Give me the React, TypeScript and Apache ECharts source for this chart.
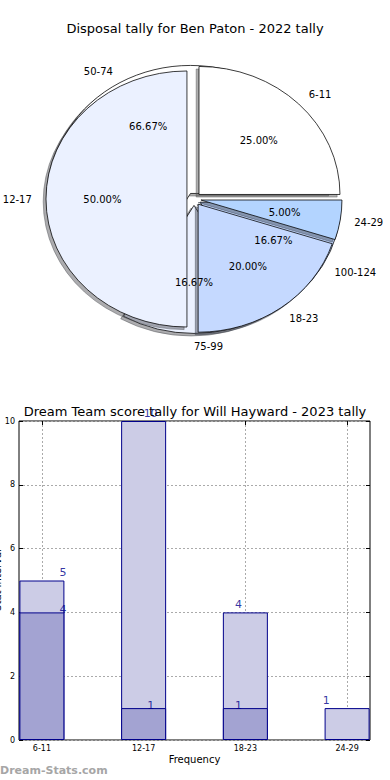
import React, { useEffect, useRef } from 'react';
import * as echarts from 'echarts';

// ---------- data ----------
const pieTitle = 'Disposal tally for Ben Paton - 2022 tally';
const pie1Labels = ['6-11', '12-17', '18-23', '24-29'];
const pie1Values = [5, 10, 4, 1];
const pie2Labels = ['50-74', '75-99', '100-124'];
const pie2Values = [4, 1, 1];
const pieColors = ['#FFFFFF', '#EBF1FF', '#C5D9FF', '#B3D4FF'];

const barTitle = 'Dream Team score tally for Will Hayward - 2023 tally';
const barCategories = ['6-11', '12-17', '18-23', '24-29'];
const lightValues = [5, 10, 4, 1];
const darkValues = [4, 1, 1];
const xTickPositions = [0, 1, 2, 3];

// ---------- layout ----------
const FONT = 'DejaVu Sans';
const CX = 194;
const CY = 199;
const RX = 141;
const RY = 128;
const EXPLODE = 0.05;
const SDX = -0.02 * RX;
const SDY = 0.02 * RY;

type Wedge = { label: string; value: number; pct: number; start: number; end: number; mid: number; color: string };

function buildWedges(values: number[], labels: string[]): Wedge[] {
  const total = values.reduce((a, b) => a + b, 0);
  let acc = 0;
  return values.map((v, i) => {
    const start = (acc / total) * 360;
    acc += v;
    const end = (acc / total) * 360;
    return { label: labels[i], value: v, pct: (v / total) * 100, start, end, mid: (start + end) / 2, color: pieColors[i % pieColors.length] };
  });
}

function shadowColor(hex: string): string {
  const n = parseInt(hex.slice(1), 16);
  const r = Math.round(((n >> 16) & 255) * 0.3);
  const g = Math.round(((n >> 8) & 255) * 0.3);
  const b = Math.round((n & 255) * 0.3);
  return `rgba(${r},${g},${b},0.45)`;
}

const wedges1 = buildWedges(pie1Values, pie1Labels);
const wedges2 = buildWedges(pie2Values, pie2Labels);

function wedgeSeries(ws: Wedge[], shadow: boolean, z: number) {
  return {
    type: 'custom',
    coordinateSystem: 'none',
    silent: true,
    z,
    data: ws.map((w) => [w.start, w.end, w.mid]),
    renderItem: (params: any, api: any) => {
      const w = ws[params.dataIndex];
      const start = api.value(0);
      const end = api.value(1);
      const mid = (api.value(2) * Math.PI) / 180;
      let x = CX + EXPLODE * RX * Math.cos(mid);
      let y = CY - EXPLODE * RY * Math.sin(mid);
      if (shadow) {
        x += SDX;
        y += SDY;
      }
      const sc = shadowColor(w.color);
      return {
        type: 'group',
        x,
        y,
        scaleX: 1,
        scaleY: RY / RX,
        children: [
          {
            type: 'sector',
            shape: {
              cx: 0,
              cy: 0,
              r0: 0,
              r: RX,
              startAngle: (-start * Math.PI) / 180,
              endAngle: (-end * Math.PI) / 180,
              clockwise: false,
            },
            style: shadow
              ? { fill: sc, stroke: sc, lineWidth: 1, strokeNoScale: true }
              : { fill: w.color, stroke: '#000', lineWidth: 0.8, strokeNoScale: true },
          },
        ],
      };
    },
  };
}

type PieLabel = { text: string; x: number; y: number; align: string };

function pieLabels(ws: Wedge[]): PieLabel[] {
  const out: PieLabel[] = [];
  ws.forEach((w) => {
    const m = (w.mid * Math.PI) / 180;
    const c = Math.cos(m);
    const s = Math.sin(m);
    out.push({ text: w.pct.toFixed(2) + '%', x: CX + 0.65 * RX * c, y: CY - 0.65 * RY * s, align: 'center' });
    out.push({ text: w.label, x: CX + 1.15 * RX * c, y: CY - 1.15 * RY * s, align: c > -1e-6 ? 'left' : 'right' });
  });
  return out;
}

const allPieLabels = [...pieLabels(wedges1), ...pieLabels(wedges2)];

const option: any = {
  animation: false,
  backgroundColor: '#ffffff',
  title: [
    {
      text: pieTitle,
      left: 'center',
      top: 22,
      padding: 0,
      textStyle: { fontFamily: FONT, fontSize: 13, fontWeight: 'normal', color: '#000' },
    },
    {
      text: barTitle,
      left: 'center',
      top: 405,
      padding: 0,
      textStyle: { fontFamily: FONT, fontSize: 13, fontWeight: 'normal', color: '#000' },
    },
  ],
  grid: {
    left: 19,
    right: 20,
    top: 421,
    bottom: 40,
    show: true,
    borderColor: '#000',
    borderWidth: 1,
    backgroundColor: 'transparent',
    containLabel: false,
    outerBoundsMode: 'none',
  },
  xAxis: [
    {
      type: 'value',
      min: -0.225,
      max: 3.225,
      position: 'bottom',
      axisLine: { show: false, onZero: false },
      axisTick: { show: true, inside: true, length: 4, customValues: xTickPositions, lineStyle: { color: '#000' } },
      axisLabel: {
        customValues: xTickPositions,
        formatter: (v: number) => barCategories[Math.round(v)] ?? '',
        fontSize: 8,
        fontFamily: FONT,
        color: '#000',
        margin: 4,
      },
      splitLine: { show: true, lineStyle: { type: [2, 2], color: '#aaaaaa', width: 1 } },
      name: 'Frequency',
      nameLocation: 'middle',
      nameGap: 14,
      nameTextStyle: { fontFamily: FONT, fontSize: 10, color: '#000', verticalAlign: 'top' },
    },
    {
      type: 'value',
      min: -0.225,
      max: 3.225,
      position: 'top',
      axisLine: { show: false, onZero: false },
      axisTick: { show: true, inside: true, length: 4, customValues: xTickPositions, lineStyle: { color: '#000' } },
      axisLabel: { show: false },
      splitLine: { show: false },
    },
    {
      type: 'category',
      data: barCategories,
      boundaryGap: true,
      show: false,
    },
  ],
  yAxis: [
    {
      type: 'value',
      min: 0,
      max: 10,
      interval: 2,
      position: 'left',
      axisLine: { show: false, onZero: false },
      axisTick: { show: true, inside: true, length: 4, lineStyle: { color: '#000' } },
      axisLabel: { fontSize: 8, fontFamily: FONT, color: '#000', margin: 4 },
      splitLine: { show: true, lineStyle: { type: [2, 2], color: '#aaaaaa', width: 1 } },
    },
    {
      type: 'value',
      min: 0,
      max: 10,
      interval: 2,
      position: 'right',
      axisLine: { show: false, onZero: false },
      axisTick: { show: true, inside: true, length: 4, lineStyle: { color: '#000' } },
      axisLabel: { show: false },
      splitLine: { show: false },
    },
  ],
  graphic: [
    {
      type: 'text',
      x: -3,
      y: 580,
      rotation: Math.PI / 2,
      style: { text: 'Stat Interval', fontFamily: FONT, fontSize: 10, fill: '#000', align: 'center', verticalAlign: 'middle' },
    },
    {
      type: 'text',
      x: 0,
      y: 770,
      style: { text: 'Dream-Stats.com', fontFamily: FONT, fontSize: 11, fontWeight: 'bold', fill: '#a6a6a6', align: 'left', verticalAlign: 'middle' },
    },
  ],
  series: [
    wedgeSeries(wedges2, true, 1),
    wedgeSeries(wedges2, false, 2),
    wedgeSeries(wedges1, true, 3),
    wedgeSeries(wedges1, false, 4),
    {
      type: 'custom',
      coordinateSystem: 'none',
      silent: true,
      z: 6,
      data: allPieLabels.map((l) => [l.x, l.y]),
      renderItem: (params: any, api: any) => {
        const l = allPieLabels[params.dataIndex];
        return {
          type: 'text',
          x: api.value(0),
          y: api.value(1),
          style: { text: l.text, fontFamily: FONT, fontSize: 10, fill: '#000', align: l.align, verticalAlign: 'middle' },
        };
      },
    },
    {
      type: 'bar',
      xAxisIndex: 0,
      yAxisIndex: 0,
      data: lightValues.map((v, i) => [xTickPositions[i], v]),
      barWidth: 45,
      barGap: '-100%',
      itemStyle: { color: '#CCCCE6', borderColor: '#00008B', borderWidth: 1 },
      z: 2,
    },
    {
      type: 'bar',
      xAxisIndex: 0,
      yAxisIndex: 0,
      data: darkValues.map((v, i) => [xTickPositions[i], v]),
      barWidth: 45,
      barGap: '-100%',
      itemStyle: { color: '#A3A3D2', borderColor: '#00008B', borderWidth: 1 },
      z: 3,
    },
    {
      type: 'scatter',
      xAxisIndex: 2,
      yAxisIndex: 0,
      silent: true,
      symbolSize: 0,
      z: 5,
      data: lightValues.map((v, i) => [i, v]),
      label: {
        show: true,
        position: 'inside',
        offset: [0, -8],
        formatter: (p: any) => String(p.value[1]),
        fontFamily: FONT,
        fontSize: 11,
        color: '#00008B',
      },
    },
    {
      type: 'scatter',
      xAxisIndex: 2,
      yAxisIndex: 0,
      silent: true,
      symbolSize: 0,
      z: 5,
      data: darkValues.map((v, i) => [i, v]),
      label: {
        show: true,
        position: 'inside',
        offset: [0, -3],
        formatter: (p: any) => String(p.value[1]),
        fontFamily: FONT,
        fontSize: 11,
        color: '#00008B',
      },
    },
  ],
};

export default function App() {
  const ref = useRef<HTMLDivElement>(null);
  useEffect(() => {
    if (!ref.current) return;
    const chart = echarts.init(ref.current, undefined, { renderer: 'svg' });
    chart.setOption(option);
    return () => chart.dispose();
  }, []);
  return <div ref={ref} style={{ position: 'absolute', left: 0, top: 0, width: 390, height: 780 }} />;
}
